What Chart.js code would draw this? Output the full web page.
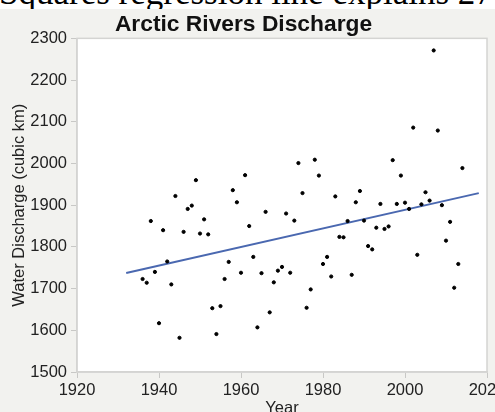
<!DOCTYPE html>
<html>
<head>
<meta charset="utf-8">
<script src="https://cdn.jsdelivr.net/npm/chart.js@4/dist/chart.umd.min.js"></script>
<style>
  html, body { margin: 0; padding: 0; background: #fff; overflow: hidden; }
  #wrap { position: relative; width: 495px; height: 412px; }
  #caption {
    position: absolute; left: 0; top: 0; width: 495px; height: 9px;
    overflow: hidden; background: #fff; z-index: 2;
  }
  #caption span {
    position: absolute; left: -1px; top: -25px; white-space: nowrap;
    font: 35px/1 "Liberation Serif", "DejaVu Serif", serif; color: #000;
  }
  #dischargeChart { position: absolute; left: 0; top: 0; background: #f2f2ef; }
</style>
</head>
<body>
<div id="wrap">
  <div id="caption"><span>Squares regression line explains 27% of</span></div>
  <canvas id="dischargeChart" width="495" height="412"></canvas>
</div>
<script>
// yearly discharge, cubic km
const years = [
  1936, 1937, 1938, 1939, 1940, 1941, 1942, 1943, 1944, 1945,
  1946, 1947, 1948, 1949, 1950, 1951, 1952, 1953, 1954, 1955,
  1956, 1957, 1958, 1959, 1960, 1961, 1962, 1963, 1964, 1965,
  1966, 1967, 1968, 1969, 1970, 1971, 1972, 1973, 1974, 1975,
  1976, 1977, 1978, 1979, 1980, 1981, 1982, 1983, 1984, 1985,
  1986, 1987, 1988, 1989, 1990, 1991, 1992, 1993, 1994, 1995,
  1996, 1997, 1998, 1999, 2000, 2001, 2002, 2003, 2004, 2005,
  2006, 2007, 2008, 2009, 2010, 2011, 2012, 2013, 2014
];
const discharge = [
  1723, 1714, 1862, 1740, 1617, 1840, 1765, 1710, 1922, 1582,
  1836, 1891, 1899, 1960, 1832, 1866, 1830, 1653, 1591, 1658,
  1723, 1764, 1936, 1907, 1738, 1972, 1850, 1776, 1607, 1737,
  1884, 1643, 1715, 1743, 1752, 1880, 1738, 1863, 2001, 1929,
  1654, 1698, 2009, 1971, 1759, 1776, 1729, 1921, 1824, 1823,
  1862, 1733, 1907, 1934, 1863, 1802, 1794, 1846, 1903, 1843,
  1849, 2008, 1903, 1971, 1906, 1891, 2086, 1781, 1902, 1931,
  1911, 2271, 2079, 1900, 1815, 1860, 1702, 1759, 1989
];
const xTicks = [1920, 1940, 1960, 1980, 2000, 2020];
const yTicks = [1500, 1600, 1700, 1800, 1900, 2000, 2100, 2200, 2300];
const fitYears = [1932, 2018];

// least squares fit through the points
const n = years.length;
const mx = years.reduce((a, b) => a + b, 0) / n;
const my = discharge.reduce((a, b) => a + b, 0) / n;
let sxy = 0, sxx = 0;
years.forEach((x, i) => {
  sxy += (x - mx) * (discharge[i] - my);
  sxx += (x - mx) * (x - mx);
});
const slope = sxy / sxx;
const fitLine = fitYears.map(x => ({ x, y: my + slope * (x - mx) }));

const points = years.map((x, i) => ({ x, y: discharge[i] }));

Chart.defaults.font.family = '"Liberation Sans", Arial, Helvetica, sans-serif';
Chart.defaults.color = "#222";

// white plot box with a thin grey frame
const plotFrame = {
  id: "plotFrame",
  beforeDraw(chart) {
    const { ctx, chartArea: a } = chart;
    ctx.save();
    ctx.fillStyle = "#fff";
    ctx.fillRect(a.left, a.top, a.width, a.height);
    ctx.restore();
  },
  beforeDatasetsDraw(chart) {
    const { ctx, chartArea: a } = chart;
    ctx.save();
    ctx.strokeStyle = "#d4d4d2";
    ctx.lineWidth = 1.5;
    ctx.strokeRect(a.left, a.top, a.width, a.height);
    ctx.restore();
  }
};

new Chart(document.getElementById("dischargeChart"), {
  type: "scatter",
  data: {
    datasets: [
      {
        label: "Discharge",
        data: points,
        backgroundColor: "#000",
        borderColor: "#000",
        pointRadius: 1.6,
        pointHoverRadius: 1.6
      },
      {
        label: "Fit",
        data: fitLine,
        showLine: true,
        borderColor: "#4a68b0",
        borderWidth: 2,
        pointRadius: 0
      }
    ]
  },
  options: {
    responsive: false,
    animation: false,
    layout: { padding: { top: 0, right: 8, bottom: 0, left: 0 } },
    plugins: {
      legend: { display: false },
      tooltip: { enabled: false },
      title: {
        display: true,
        text: "Arctic Rivers Discharge",
        color: "#111",
        font: { size: 22.8, weight: "bold" },
        padding: { top: 11, bottom: 0 }
      }
    },
    scales: {
      x: {
        type: "linear",
        min: xTicks[0],
        max: xTicks[xTicks.length - 1],
        afterBuildTicks: s => { s.ticks = xTicks.map(v => ({ value: v })); },
        ticks: { callback: v => String(v), font: { size: 16.5 }, padding: 3, maxRotation: 0 },
        grid: { drawOnChartArea: false, tickLength: 6, color: "#c8c8c6" },
        border: { color: "#d4d4d2", width: 1.5 },
        title: {
          display: true,
          text: "Year",
          font: { size: 16.5 },
          padding: { top: 0, bottom: -6 }
        },
        afterFit: s => { s.height = 40; s.paddingLeft = 0; s.paddingRight = 0; }
      },
      y: {
        min: yTicks[0],
        max: yTicks[yTicks.length - 1],
        afterBuildTicks: s => { s.ticks = yTicks.map(v => ({ value: v })); },
        ticks: { callback: v => String(v), font: { size: 16.5 }, padding: 4 },
        grid: { drawOnChartArea: false, tickLength: 6, color: "#c8c8c6" },
        border: { color: "#d4d4d2", width: 1.5 },
        title: {
          display: true,
          text: "Water Discharge (cubic km)",
          font: { size: 16.5 },
          padding: { top: 10, bottom: 0 }
        },
        afterFit: s => { s.width = 77; s.paddingTop = 0; s.paddingBottom = 0; }
      }
    }
  },
  plugins: [plotFrame]
});
</script>
</body>
</html>
